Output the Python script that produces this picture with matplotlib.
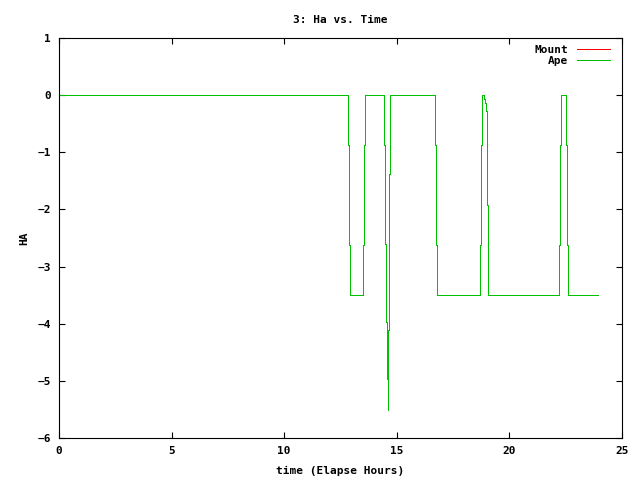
import matplotlib
matplotlib.use('agg')
import matplotlib.pyplot as plt

# HA vs elapsed time, (hours, HA) vertices, held until the next one
time_hours = [0, 12.85, 12.89, 12.94, 13.51, 13.56, 13.60,
              14.45, 14.49, 14.54, 14.58, 14.60, 14.62, 14.67, 14.71,
              16.71, 16.75, 16.80, 18.71, 18.75, 18.80,
              18.87, 18.93, 18.98, 19.02, 19.07,
              22.22, 22.26, 22.31, 22.53, 22.57, 22.62, 23.95]
ha_ape = [0, -0.87, -2.62, -3.5, -2.62, -0.87, 0,
          -0.87, -2.6, -3.97, -4.97, -5.51, -4.11, -1.38, 0,
          -0.87, -2.62, -3.5, -2.62, -0.87, 0,
          -0.07, -0.14, -0.28, -1.92, -3.5,
          -2.62, -0.87, 0, -0.87, -2.62, -3.5, -3.5]
ha_mount = list(ha_ape)

x_ticks = [0, 5, 10, 15, 20, 25]
y_ticks = [1, 0, -1, -2, -3, -4, -5, -6]

font = {'family': 'DejaVu Sans Mono', 'weight': 'bold', 'size': 8}
plt.rcParams['font.family'] = 'DejaVu Sans Mono'
plt.rcParams['font.weight'] = 'bold'
plt.rcParams['font.size'] = 8

fig = plt.figure(figsize=(6.4, 4.8), dpi=100)
ax = fig.add_axes([59 / 640, 1 - 438 / 480, 563 / 640, 400 / 480])

ax.plot(time_hours, ha_mount, color='#ff0000', lw=0.72, drawstyle='steps-post',
        antialiased=False, label='Mount')
ax.plot(time_hours, ha_ape, color='#00c000', lw=0.72, drawstyle='steps-post',
        antialiased=False, label='Ape')

ax.set_xlim(0, 25)
ax.set_ylim(-6, 1)
ax.set_xticks(x_ticks)
ax.set_yticks(y_ticks)
ax.tick_params(direction='in', length=4.5, width=0.8, top=True, right=True,
               labelsize=8, pad=6)
for s in ax.spines.values():
    s.set_linewidth(0.8)

ax.set_title('3: Ha vs. Time', fontdict=font, pad=11)
ax.set_xlabel('time (Elapse Hours)', fontdict=font, labelpad=7)
ax.set_ylabel('HA', fontdict=font, labelpad=6)

leg = ax.legend(loc='upper right', frameon=False, markerfirst=False, handlelength=3.0,
                handletextpad=0.8, labelspacing=0.15, borderaxespad=0.3,
                bbox_to_anchor=(0.993, 1.003),
                prop={'family': 'DejaVu Sans Mono', 'weight': 'bold', 'size': 8})
for ln in leg.get_lines():
    ln.set_antialiased(False)
    ln.set_linewidth(0.72)

fig.savefig('out.png', dpi=100)
